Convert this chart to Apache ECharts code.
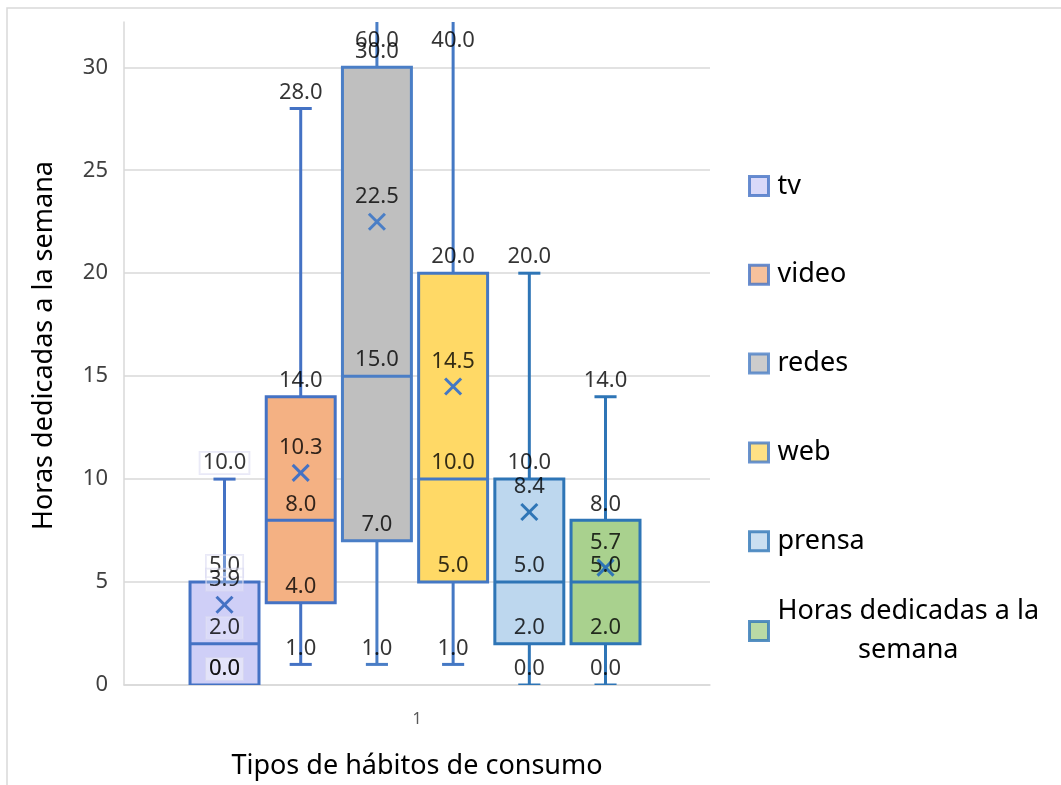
<!DOCTYPE html>
<html><head><meta charset="utf-8">
<script src="https://cdn.jsdelivr.net/npm/echarts@6/dist/echarts.min.js"></script>
<style>html,body{margin:0;padding:0;background:#fff}#c{width:1061px;height:785px}</style>
</head><body><div id="c"></div>
<script>
const categories = ['tv', 'video', 'redes', 'web', 'prensa', 'Horas dedicadas a la semana'];
const xCategory = ['1'];
const minValues = [0, 1, 1, 1, 0, 0];
const q1Values = [0, 4, 7, 5, 2, 2];
const medianValues = [2, 8, 15, 10, 5, 5];
const q3Values = [5, 14, 30, 20, 10, 8];
const maxValues = [10, 28, 60, 40, 20, 14];
const meanValues = [3.9, 10.3, 22.5, 14.5, 8.4, 5.7];
const fillColors = ['#CFCFF7', '#F4B183', '#BFBFBF', '#FFD966', '#BDD7EE', '#A9D18E'];
const borderColors = ['#4472C4', '#4472C4', '#4A7EC6', '#4478C4', '#2E75B6', '#2E75B6'];
const Y_MIN = 0, Y_MAX = 32.2, Y_INTERVAL = 5;
const FONT = "'Noto Sans', sans-serif";

const chart = echarts.init(document.getElementById('c'), null, { renderer: 'canvas' });

const boxData = categories.map((c, i) => [i, minValues[i], q1Values[i], medianValues[i], q3Values[i], maxValues[i], meanValues[i]]);

function renderBox(params, api) {
  const x = api.value(0);
  const unit = api.size([1, 0])[0];
  const bw = unit * 0.905, cw = unit * 0.29, m = 8;
  const P = k => api.coord([x, api.value(k)]);
  const pMin = P(1), pQ1 = P(2), pMed = P(3), pQ3 = P(4), pMax = P(5), pMean = P(6);
  const cx = pMed[0];
  const i = params.dataIndex;
  const stroke = borderColors[i];
  const ls = { stroke: stroke, lineWidth: 3, fill: null };
  return {
    type: 'group', children: [
      { type: 'line', shape: { x1: cx, y1: pQ3[1], x2: cx, y2: pMax[1] }, style: ls },
      { type: 'line', shape: { x1: cx, y1: pQ1[1], x2: cx, y2: pMin[1] }, style: ls },
      { type: 'line', shape: { x1: cx - cw / 2, y1: pMax[1], x2: cx + cw / 2, y2: pMax[1] }, style: ls },
      { type: 'line', shape: { x1: cx - cw / 2, y1: pMin[1], x2: cx + cw / 2, y2: pMin[1] }, style: ls },
      { type: 'rect', shape: { x: cx - bw / 2, y: pQ3[1], width: bw, height: pQ1[1] - pQ3[1] }, style: { fill: fillColors[i], stroke: stroke, lineWidth: 3 } },
      { type: 'line', shape: { x1: cx - bw / 2, y1: pMed[1], x2: cx + bw / 2, y2: pMed[1] }, style: ls },
      { type: 'line', shape: { x1: cx - m, y1: pMean[1] - m, x2: cx + m, y2: pMean[1] + m }, style: ls },
      { type: 'line', shape: { x1: cx - m, y1: pMean[1] + m, x2: cx + m, y2: pMean[1] - m }, style: ls }
    ]
  };
}

const labelSeries = categories.map((name, i) => {
  const stats = [minValues[i], q1Values[i], medianValues[i], q3Values[i], maxValues[i]];
  const items = stats.map(v => ({
    value: [i, Math.min(v, Y_MAX), v],
    label: { position: v > Y_MAX ? 'bottom' : 'top', distance: v > Y_MAX ? 8 : 5 }
  }));
  items.push({ value: [i, meanValues[i], meanValues[i]], label: { position: 'top', distance: 14 } });
  const extra = i === 0 ? { backgroundColor: 'rgba(255,255,255,0.3)', borderColor: 'rgba(215,215,240,0.7)', borderWidth: 1, padding: [0, 3] } : {};
  return {
    name: name, type: 'scatter', xAxisIndex: 1, yAxisIndex: 0, symbolSize: 0, clip: false, z: 5,
    itemStyle: { color: fillColors[i] },
    label: Object.assign({ show: true, formatter: p => p.value[2].toFixed(1), fontFamily: FONT, fontSize: 22, color: '#000' }, extra),
    emphasis: { disabled: true },
    data: items
  };
});

const legendText = { fontFamily: FONT, fontSize: 27, color: '#000' };

chart.setOption({
  animation: false,
  backgroundColor: '#fff',
  graphic: [{ type: 'rect', silent: true, shape: { x: 7, y: 8, width: 1200, height: 900 }, style: { fill: 'none', stroke: '#d9d9d9', lineWidth: 1.5 } }],
  grid: { left: 124, top: 22, width: 586, height: 663 },
  legend: [{
    data: categories.slice(0, 5).map((n, i) => ({ name: n, icon: 'rect', itemStyle: { color: fillColors[i], borderColor: borderColors[i], borderWidth: 3 } })),
    orient: 'vertical', left: 748, top: 168, itemWidth: 19, itemHeight: 19, itemGap: 52.8, padding: 0, selectedMode: false,
    textStyle: Object.assign({ lineHeight: 36, padding: [0, 0, 0, 4] }, legendText)
  }, {
    data: [{ name: categories[5], icon: 'rect', itemStyle: { color: fillColors[5], borderColor: borderColors[5], borderWidth: 3 } }],
    orient: 'vertical', left: 748, top: 598, itemWidth: 19, itemHeight: 19, padding: 0, selectedMode: false,
    formatter: () => '{a|Horas dedicadas a la}\n{b|semana}',
    textStyle: Object.assign({
      padding: [0, 0, 0, 4],
      rich: { a: Object.assign({ lineHeight: 39 }, legendText), b: Object.assign({ lineHeight: 39, align: 'center' }, legendText) }
    }, legendText)
  }],
  xAxis: [{
    type: 'category', data: xCategory, gridIndex: 0,
    axisTick: { show: false },
    axisLine: { show: true, onZero: false, lineStyle: { color: '#d9d9d9', width: 1.5 } },
    axisLabel: { color: '#595959', fontSize: 16, fontFamily: FONT, margin: 26 },
    name: 'Tipos de hábitos de consumo', nameLocation: 'middle', nameGap: 68,
    nameTextStyle: { fontFamily: FONT, fontSize: 27, color: '#000' }
  }, {
    type: 'value', gridIndex: 0, show: false, min: -1.319, max: 6.371,
    axisLine: { show: false, onZero: false },
    splitLine: { show: false }
  }],
  yAxis: [{
    type: 'value', min: Y_MIN, max: Y_MAX, interval: Y_INTERVAL,
    axisLine: { show: true, onZero: false, lineStyle: { color: '#d9d9d9', width: 1.5 } },
    axisTick: { show: false },
    splitLine: { show: true, showMaxLine: false, lineStyle: { color: '#d9d9d9', width: 1.5 } },
    axisLabel: { showMaxLabel: false, color: '#404040', fontSize: 22, fontFamily: FONT, margin: 16 },
    name: 'Horas dedicadas a la semana', nameLocation: 'middle', nameGap: 66,
    nameTextStyle: { fontFamily: FONT, fontSize: 27, color: '#000', padding: [0, 0, 0, 16] }
  }],
  series: [{
    name: 'cajas', type: 'custom', xAxisIndex: 1, yAxisIndex: 0, clip: true, z: 3,
    renderItem: renderBox, encode: { x: 0, y: [1, 2, 3, 4, 5, 6] },
    emphasis: { disabled: true }, silent: true,
    data: boxData
  }].concat(labelSeries)
});
</script></body></html>
